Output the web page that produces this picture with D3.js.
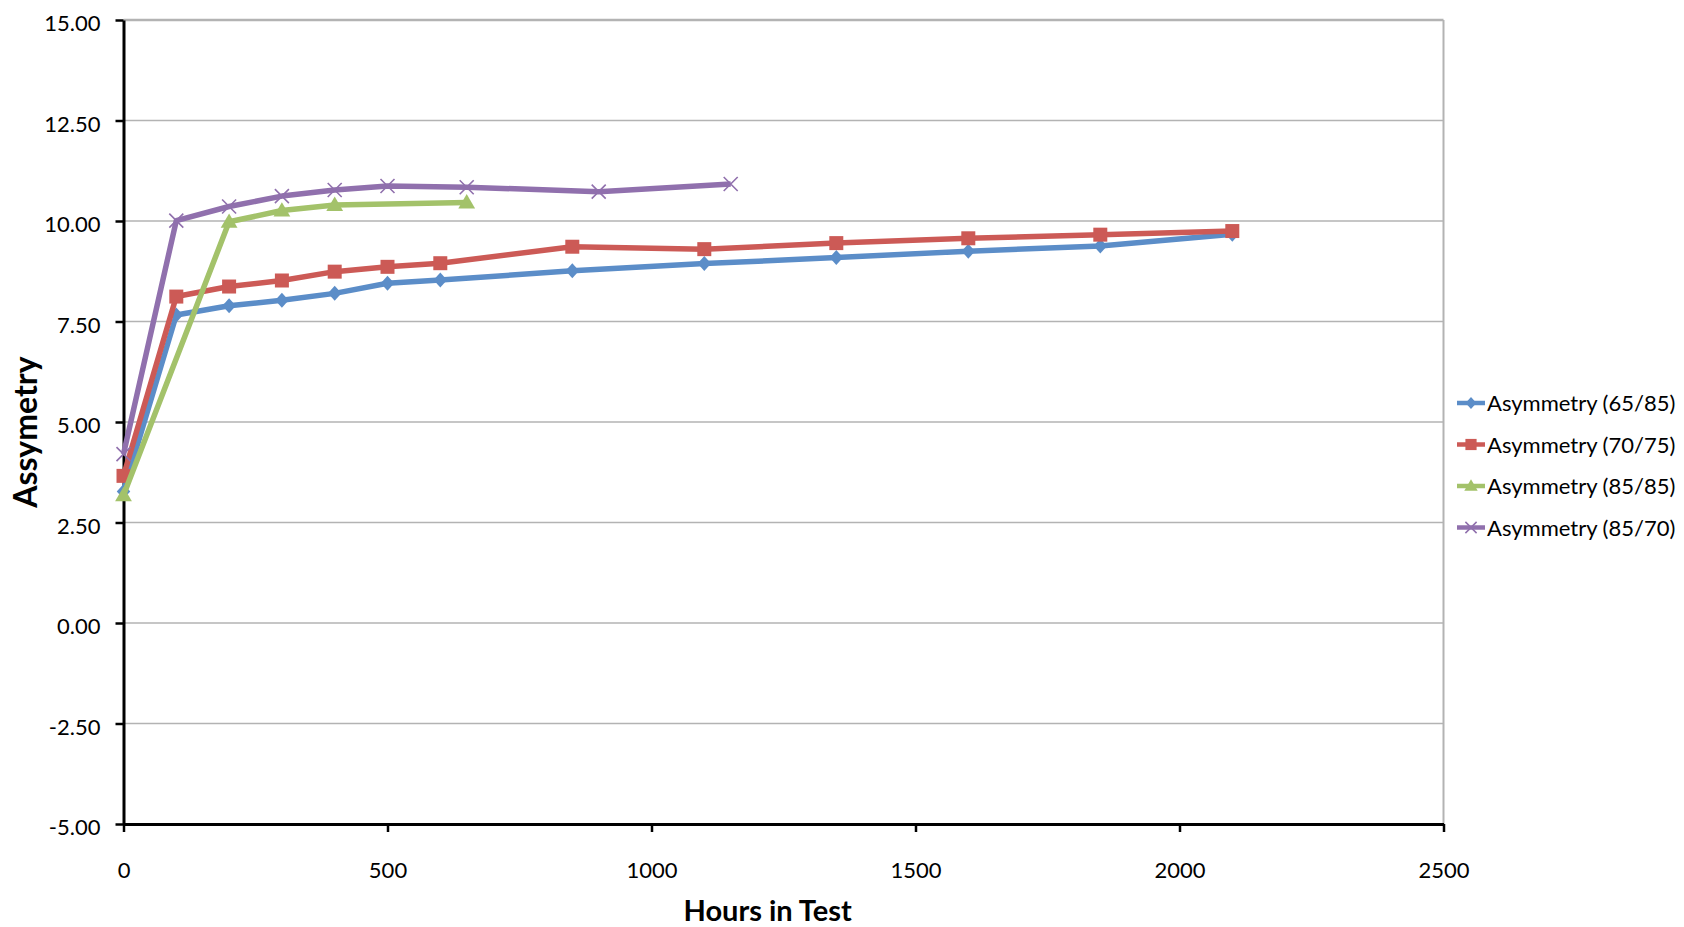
<!DOCTYPE html>
<html>
<head>
<meta charset="utf-8">
<script src="https://cdn.jsdelivr.net/npm/d3@7"></script>
<style>
    body { margin: 0; background: #fff; }
    svg text { font-family: Lato, "Open Sans", sans-serif; fill: #000; }
</style>
</head>
<body>
<div id="chart"></div>
<script>

/*** data ***/
const hoursA = [0, 100, 200, 300, 400, 500, 600, 850, 1100, 1350, 1600, 1850, 2100];
const asym6585 = [3.27, 7.66, 7.89, 8.03, 8.20, 8.45, 8.53, 8.76, 8.94, 9.09, 9.25, 9.38, 9.67];
const asym7075 = [3.66, 8.12, 8.37, 8.52, 8.74, 8.86, 8.95, 9.36, 9.30, 9.45, 9.57, 9.66, 9.75];
const hours8585 = [0, 200, 300, 400, 650];
const asym8585 = [3.18, 9.98, 10.26, 10.40, 10.46];
const hours8570 = [0, 100, 200, 300, 400, 500, 650, 900, 1150];
const asym8570 = [4.20, 10.01, 10.36, 10.62, 10.77, 10.87, 10.84, 10.73, 10.92];

const seriesNames = ["Asymmetry (65/85)", "Asymmetry (70/75)", "Asymmetry (85/85)", "Asymmetry (85/70)"];
const xTicks = [0, 500, 1000, 1500, 2000, 2500];
const yTicks = [-5, -2.5, 0, 2.5, 5, 7.5, 10, 12.5, 15];

const series = [
    {name: seriesNames[0], x: hoursA, y: asym6585, color: "#5b8dc8", marker: "diamond"},
    {name: seriesNames[1], x: hoursA, y: asym7075, color: "#cc5a56", marker: "square"},
    {name: seriesNames[2], x: hours8585, y: asym8585, color: "#a3c26a", marker: "triangle"},
    {name: seriesNames[3], x: hours8570, y: asym8570, color: "#9070ad", marker: "cross"}
];

/*** layout ***/
const W = 1684, H = 927;
const margin = {top: 20, right: 240.5, bottom: 103, left: 123.5};
const width = W - margin.left - margin.right;
const height = H - margin.top - margin.bottom;

const svg = d3.select("#chart").append("svg")
    .attr("width", W)
    .attr("height", H);

const g = svg.append("g")
    .attr("transform", "translate(" + margin.left + "," + margin.top + ")");

const x = d3.scaleLinear().domain([0, 2500]).range([0, width]);
const y = d3.scaleLinear().domain([-5, 15]).range([height, 0]);

// plain hyphen for negatives, like the original
const fmtY = d => d3.format(".2f")(d).replace("\u2212", "-");

// gridlines
g.append("g")
    .selectAll("line")
    .data(yTicks.filter(d => d > -5))
    .enter().append("line")
    .attr("x1", 0)
    .attr("x2", width)
    .attr("y1", d => y(d))
    .attr("y2", d => y(d))
    .attr("stroke", "#b3b3b3")
    .attr("stroke-width", d => d === 15 ? 2.5 : 1.6);

// right border
g.append("line")
    .attr("x1", width).attr("x2", width)
    .attr("y1", 0).attr("y2", height)
    .attr("stroke", "#b3b3b3")
    .attr("stroke-width", 2);

// axes
const yAxis = g.append("g")
    .call(d3.axisLeft(y).tickValues(yTicks).tickFormat(fmtY).tickSizeInner(8).tickSizeOuter(0).tickPadding(15));
const xAxis = g.append("g")
    .attr("transform", "translate(0," + height + ")")
    .call(d3.axisBottom(x).tickValues(xTicks).tickFormat(d3.format("d")).tickSizeInner(8).tickSizeOuter(0).tickPadding(30));

[yAxis, xAxis].forEach(function (a) {
    a.select(".domain").attr("stroke", "#000").attr("stroke-width", 3);
    a.selectAll(".tick line").attr("stroke", "#000").attr("stroke-width", 2.5);
    a.selectAll(".tick text").attr("font-size", 22).attr("font-family", "Lato, sans-serif").attr("fill", "#000");
});
yAxis.selectAll(".tick text").attr("dy", "0.48em");

// markers
function markerPath(type, s) {
    const p = d3.path();
    if (type === "diamond") {
        p.moveTo(0, -s); p.lineTo(s * 0.9, 0); p.lineTo(0, s); p.lineTo(-s * 0.9, 0); p.closePath();
    } else if (type === "square") {
        p.rect(-s, -s, 2 * s, 2 * s);
    } else if (type === "triangle") {
        p.moveTo(0, -s * 1.05); p.lineTo(s * 1.05, s * 0.75); p.lineTo(-s * 1.05, s * 0.75); p.closePath();
    } else {
        p.moveTo(-s, -s); p.lineTo(s, s); p.moveTo(s, -s); p.lineTo(-s, s);
    }
    return p.toString();
}
const markerSize = {diamond: 7.5, square: 7, triangle: 8, cross: 7};

const line = d3.line()
    .x(d => x(d[0]))
    .y(d => y(d[1]));

series.forEach(function (s) {
    const pts = s.x.map((h, i) => [h, s.y[i]]);
    const sg = g.append("g").attr("class", "series");
    sg.append("path")
        .datum(pts)
        .attr("fill", "none")
        .attr("stroke", s.color)
        .attr("stroke-width", 5.5)
        .attr("stroke-linejoin", "round")
        .attr("d", line);
    sg.selectAll("path.mark")
        .data(pts)
        .enter().append("path")
        .attr("class", "mark")
        .attr("transform", d => "translate(" + x(d[0]) + "," + y(d[1]) + ")")
        .attr("d", markerPath(s.marker, markerSize[s.marker]))
        .attr("fill", s.marker === "cross" ? "none" : s.color)
        .attr("stroke", s.color)
        .attr("stroke-width", s.marker === "cross" ? 1.6 : 0);
});

// axis titles
svg.append("text")
    .attr("x", margin.left + x(1220))
    .attr("y", 921)
    .attr("text-anchor", "middle")
    .attr("font-size", 29)
    .attr("font-weight", "bold")
    .text("Hours in Test");

svg.append("text")
    .attr("transform", "translate(37,432) rotate(-90)")
    .attr("text-anchor", "middle")
    .attr("font-size", 32)
    .attr("font-weight", "bold")
    .text("Assymetry");

// legend
const legend = svg.append("g")
    .attr("transform", "translate(1457,403)");
series.forEach(function (s, i) {
    const row = legend.append("g").attr("transform", "translate(0," + (i * 41.5) + ")");
    row.append("line")
        .attr("x1", 0).attr("x2", 28)
        .attr("stroke", s.color)
        .attr("stroke-width", 4.5);
    row.append("path")
        .attr("transform", "translate(14,0)")
        .attr("d", markerPath(s.marker, markerSize[s.marker] * 0.8))
        .attr("fill", s.marker === "cross" ? "none" : s.color)
        .attr("stroke", s.color)
        .attr("stroke-width", s.marker === "cross" ? 1.5 : 0);
    row.append("text")
        .attr("x", 30)
        .attr("y", 8)
        .attr("font-size", 22)
        .text(s.name);
});

</script>
</body>
</html>
